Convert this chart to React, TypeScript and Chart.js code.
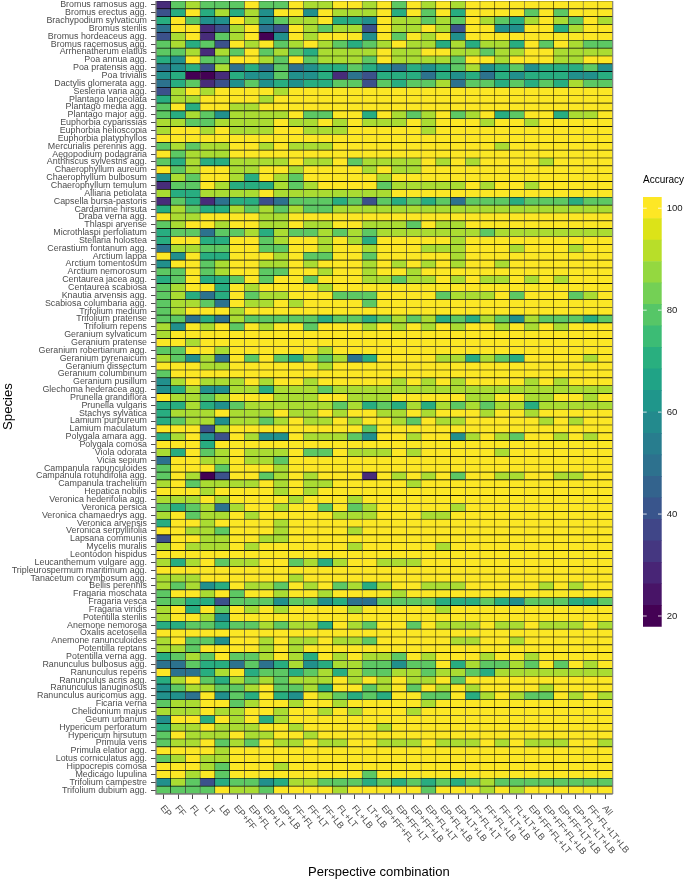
import React, { useEffect, useRef } from "react";
import { Chart } from "chart.js/auto";

const species = [
  "Bromus ramosus agg.","Bromus erectus agg.","Brachypodium sylvaticum","Bromus sterilis","Bromus hordeaceus agg.","Bromus racemosus agg.","Arrhenatherum elatius","Poa annua agg.","Poa pratensis agg.","Poa trivialis","Dactylis glomerata agg.","Sesleria varia agg.","Plantago lanceolata","Plantago media agg.","Plantago major agg.","Euphorbia cyparissias","Euphorbia helioscopia","Euphorbia platyphyllos","Mercurialis perennis agg.","Aegopodium podagraria","Anthriscus sylvestris agg.","Chaerophyllum aureum","Chaerophyllum bulbosum","Chaerophyllum temulum","Alliaria petiolata","Capsella bursa-pastoris","Cardamine hirsuta","Draba verna agg.","Thlaspi arvense","Microthlaspi perfoliatum","Stellaria holostea","Cerastium fontanum agg.","Arctium lappa","Arctium tomentosum","Arctium nemorosum","Centaurea jacea agg.","Centaurea scabiosa","Knautia arvensis agg.","Scabiosa columbaria agg.","Trifolium medium","Trifolium pratense","Trifolium repens","Geranium sylvaticum","Geranium pratense","Geranium robertianum agg.","Geranium pyrenaicum","Geranium dissectum","Geranium columbinum","Geranium pusillum","Glechoma hederacea agg.","Prunella grandiflora","Prunella vulgaris","Stachys sylvatica","Lamium purpureum","Lamium maculatum","Polygala amara agg.","Polygala comosa","Viola odorata","Vicia sepium","Campanula rapunculoides","Campanula rotundifolia agg.","Campanula trachelium","Hepatica nobilis","Veronica hederifolia agg.","Veronica persica","Veronica chamaedrys agg.","Veronica arvensis","Veronica serpyllifolia","Lapsana communis","Mycelis muralis","Leontodon hispidus","Leucanthemum vulgare agg.","Tripleurospermum maritimum agg.","Tanacetum corymbosum agg.","Bellis perennis","Fragaria moschata","Fragaria vesca","Fragaria viridis","Potentilla sterilis","Anemone nemorosa","Oxalis acetosella","Anemone ranunculoides","Potentilla reptans","Potentilla verna agg.","Ranunculus bulbosus agg.","Ranunculus repens","Ranunculus acris agg.","Ranunculus lanuginosus","Ranunculus auricomus agg.","Ficaria verna","Chelidonium majus","Geum urbanum","Hypericum perforatum","Hypericum hirsutum","Primula veris","Primula elatior agg.","Lotus corniculatus agg.","Hippocrepis comosa","Medicago lupulina","Trifolium campestre","Trifolium dubium agg.",
];

const combinations = [
  "EP","FF","FL","LT","LB","EP+FF","EP+FL","EP+LT","EP+LB","FF+FL","FF+LT","FF+LB","FL+LT","FL+LB","LT+LB","EP+FF+FL","EP+FF+LT","EP+FF+LB","EP+FL+LT","EP+FL+LB","EP+LT+LB","FF+FL+LT","FF+FL+LB","FF+LT+LB","FL+LT+LB","EP+FF+FL+LT","EP+FF+FL+LB","EP+FF+LT+LB","EP+FL+LT+LB","FF+FL+LT+LB","All",
];

const accuracy = [
  [30,80,90,80,80,80,100,80,80,100,90,90,100,100,90,100,80,100,90,100,90,100,100,100,100,100,100,100,100,100,100],
  [40,70,100,70,90,70,90,60,100,100,60,100,90,90,90,100,70,100,80,100,70,100,100,100,100,80,100,80,100,100,100],
  [70,100,80,60,60,100,90,60,80,90,90,100,70,70,60,100,90,90,80,90,80,100,90,80,70,90,100,90,80,100,90],
  [50,100,100,30,40,90,100,50,40,100,90,80,90,90,40,100,90,90,100,90,40,100,100,60,60,100,100,70,90,100,100],
  [40,90,100,30,80,90,100,20,60,100,90,100,100,100,60,100,80,100,90,100,60,100,100,100,100,100,100,100,100,100,100],
  [80,90,70,80,40,100,90,100,80,90,100,90,80,70,80,90,100,90,90,70,90,70,90,90,70,100,80,100,90,80,80],
  [80,80,90,30,90,80,100,80,90,80,70,90,90,90,90,100,90,90,100,100,90,90,80,90,90,100,100,90,90,90,90],
  [70,60,100,80,80,100,100,90,80,100,80,90,90,90,80,100,90,90,90,90,80,100,100,90,100,100,100,90,90,100,100],
  [50,60,70,40,90,50,70,50,80,50,60,70,70,80,70,60,50,70,60,70,80,90,60,70,80,60,70,70,70,80,60],
  [60,70,20,20,30,70,60,60,80,60,60,70,30,50,40,70,70,70,50,70,60,70,50,70,60,70,70,70,60,60,70],
  [50,70,80,30,40,60,80,60,70,60,70,70,80,80,40,80,70,80,80,90,50,80,80,70,80,70,80,70,90,80,80],
  [40,90,100,90,100,100,100,100,90,100,100,100,100,100,100,100,100,100,100,100,100,100,100,100,100,100,100,100,100,100,100],
  [70,90,90,100,100,100,100,90,100,100,100,100,100,100,100,100,100,100,100,100,100,100,100,100,100,100,100,100,100,100,100],
  [80,100,70,100,100,90,90,100,100,100,100,100,100,100,100,100,100,100,100,100,100,100,100,100,100,100,100,100,100,100,100],
  [80,70,90,80,60,90,90,90,90,100,80,80,100,100,70,100,90,80,90,100,80,90,100,70,80,100,100,70,90,90,100],
  [90,90,80,80,90,90,90,90,100,90,90,100,90,100,90,90,90,100,90,100,100,100,90,100,100,90,100,100,100,100,100],
  [90,100,100,90,100,90,90,90,100,100,90,90,90,100,100,100,100,100,90,100,100,100,100,100,100,100,100,100,100,100,100],
  [100,100,100,100,100,100,100,100,100,100,100,100,100,100,100,100,100,100,100,100,100,100,100,100,100,100,100,100,100,100,100],
  [80,90,80,90,90,100,100,90,100,90,90,90,100,100,100,100,100,100,100,100,100,100,100,90,100,100,100,100,100,100,100],
  [100,80,90,90,90,100,100,100,100,100,100,100,100,100,100,100,100,100,100,100,100,100,100,100,100,100,100,100,100,100,100],
  [80,70,90,70,70,90,90,90,90,100,90,90,100,80,90,90,90,90,100,90,100,90,100,100,100,100,90,100,100,100,100],
  [100,80,90,100,100,90,90,100,100,90,100,100,100,100,90,100,90,90,100,100,100,100,100,100,100,100,100,100,100,100,100],
  [60,90,80,100,100,90,70,100,90,80,100,100,100,100,100,90,100,100,100,100,100,100,100,100,100,100,100,100,100,100,100],
  [30,80,80,100,90,70,70,70,90,80,90,100,100,100,100,80,90,90,90,90,90,100,90,100,100,90,100,100,100,100,100],
  [90,70,70,90,90,90,90,100,90,90,90,90,90,90,90,90,100,100,100,100,100,100,100,100,100,100,100,100,100,100,100],
  [30,80,70,30,50,70,70,40,50,80,80,80,70,80,40,80,70,80,70,80,50,80,80,80,70,80,80,80,70,80,80],
  [70,90,80,70,70,90,80,90,80,90,80,80,90,90,90,90,90,90,90,90,90,90,90,90,90,90,90,90,90,90,90],
  [100,90,90,100,100,100,100,90,90,100,100,100,100,100,100,100,100,100,100,100,100,100,100,100,100,100,100,100,100,100,100],
  [80,90,100,100,90,100,100,90,90,100,90,90,100,100,90,90,90,80,100,90,90,100,100,100,100,100,100,100,100,100,100],
  [70,80,80,50,80,80,90,70,90,80,80,90,80,90,80,90,90,90,90,90,90,90,80,90,90,90,90,90,90,90,90],
  [70,100,100,70,70,100,100,80,90,100,100,90,100,90,70,100,100,100,100,100,90,100,100,100,100,100,100,100,100,100,100],
  [50,90,90,80,80,100,100,80,80,100,100,90,100,100,90,100,100,100,90,90,90,100,100,100,90,100,100,100,90,100,100],
  [100,60,100,70,70,100,100,100,90,100,80,80,100,100,80,100,100,100,100,100,90,100,100,100,100,100,100,100,100,100,100],
  [60,100,100,80,90,100,100,90,90,100,90,100,100,100,90,100,90,100,90,100,90,100,100,90,100,100,100,100,100,100,100],
  [80,80,100,80,90,100,100,80,80,100,100,90,100,100,90,100,100,90,100,100,100,100,100,100,100,100,100,100,100,100,100],
  [70,80,100,70,70,80,100,80,100,100,80,100,100,100,90,90,80,90,90,100,90,100,90,90,100,90,100,90,100,100,100],
  [80,90,100,100,70,100,90,100,100,100,100,90,100,100,100,100,100,100,100,100,100,100,100,100,100,100,100,100,100,100,100],
  [80,90,70,50,70,100,80,90,90,100,100,100,80,80,80,100,100,100,100,80,90,90,90,100,80,100,100,100,80,90,100],
  [80,90,90,80,50,100,90,90,100,90,100,100,100,100,80,100,100,100,100,100,100,100,100,100,100,100,100,100,100,100,100],
  [80,90,100,100,100,90,100,100,100,100,100,100,100,100,100,100,100,100,100,100,100,100,100,100,100,100,100,100,100,100,100],
  [80,80,50,70,50,90,80,80,80,80,80,70,80,80,70,80,90,80,90,70,80,70,90,80,60,90,80,80,80,70,80],
  [90,60,100,90,100,80,100,90,100,100,80,100,100,100,90,100,90,100,90,100,90,100,100,90,100,90,100,90,100,100,100],
  [90,100,100,100,100,100,100,100,100,100,100,100,100,100,100,100,100,100,100,100,100,100,100,100,100,100,100,100,100,100,100],
  [100,100,90,100,100,100,100,100,100,100,100,100,100,100,100,100,100,100,100,100,100,100,100,100,100,100,100,100,100,100,100],
  [80,80,100,100,90,100,100,100,100,100,100,90,100,100,100,100,100,100,100,100,100,100,100,100,100,100,100,100,100,100,100],
  [90,80,60,90,50,100,80,100,80,70,90,80,90,50,70,100,100,100,100,90,90,70,90,80,70,100,100,100,100,90,100],
  [100,100,100,90,90,100,100,100,100,100,100,90,100,100,100,100,100,100,100,100,100,100,100,100,100,100,100,100,100,100,100],
  [80,100,100,100,100,100,100,100,100,100,100,100,100,100,100,100,100,100,100,100,100,100,100,100,100,100,100,100,100,100,100],
  [60,90,100,90,90,90,100,90,100,100,90,100,100,100,100,100,90,100,90,100,90,100,100,100,100,90,100,90,100,100,100],
  [60,70,90,60,60,90,90,70,90,90,90,80,90,90,90,90,90,90,90,90,90,90,90,90,90,90,90,90,90,90,90],
  [100,90,90,80,90,100,100,100,90,90,90,100,100,90,90,90,100,100,100,100,100,90,90,100,100,90,90,100,100,90,100],
  [70,70,90,70,60,80,90,90,90,90,90,90,80,90,70,80,70,90,70,90,80,90,80,90,90,70,90,90,90,90,90],
  [70,90,90,90,100,90,90,90,100,90,90,100,90,100,100,90,90,100,90,100,100,100,90,100,100,90,100,100,100,100,100],
  [70,80,90,90,60,90,90,80,90,100,90,90,100,90,100,100,90,80,100,90,90,100,100,100,100,100,90,100,90,100,100],
  [100,100,100,40,90,100,100,100,100,100,100,100,100,100,80,100,100,100,100,100,100,100,100,100,100,100,100,100,100,100,100],
  [70,90,100,60,40,100,90,60,60,100,90,90,90,80,60,100,100,90,100,100,60,90,100,90,80,100,100,90,100,90,100],
  [100,100,100,70,100,100,100,100,100,100,100,100,100,100,100,100,100,100,100,100,100,100,100,100,100,100,100,100,100,100,100],
  [90,70,100,80,90,100,90,90,90,100,80,80,100,90,90,90,100,90,100,100,100,100,100,90,100,100,100,100,100,100,100],
  [50,100,100,90,90,100,90,90,80,100,100,100,100,100,100,100,100,100,100,100,100,100,100,100,100,100,100,100,100,100,100],
  [80,100,100,100,80,100,100,100,90,100,100,100,100,100,100,100,100,100,100,100,100,100,100,100,100,100,100,100,100,100,100],
  [80,100,90,20,40,100,100,80,90,100,90,100,100,100,30,100,90,100,90,100,80,100,100,90,90,100,100,90,90,100,100],
  [90,100,80,90,90,90,90,100,90,100,90,90,100,100,100,100,100,90,100,100,100,100,100,100,100,100,100,100,100,100,100],
  [100,100,100,90,100,100,100,100,90,100,90,100,100,100,100,100,100,100,100,100,100,100,100,100,100,100,100,100,100,100,100],
  [90,90,90,100,90,100,100,100,100,90,100,100,100,90,100,100,100,100,100,100,100,100,100,100,100,100,100,100,100,100,100],
  [80,70,80,90,50,90,100,100,90,100,100,80,100,80,90,100,100,100,100,100,90,100,100,100,100,100,100,100,100,100,100],
  [90,100,80,90,90,100,90,100,100,100,100,100,90,90,90,100,100,100,90,90,100,100,100,100,100,100,100,100,100,100,100],
  [70,100,100,90,100,100,100,100,90,100,100,100,100,100,100,100,100,100,100,100,100,100,100,100,100,100,100,100,100,100,100],
  [100,100,90,90,80,100,100,100,90,100,100,100,100,90,100,100,100,100,100,100,100,100,100,100,100,100,100,100,100,100,100],
  [40,100,100,90,90,100,100,90,90,100,100,100,100,100,100,100,100,100,100,100,100,100,100,100,100,100,100,100,100,100,100],
  [90,100,90,90,90,100,90,100,100,100,100,100,100,90,100,100,100,100,100,90,100,100,100,100,100,100,100,100,100,100,100],
  [100,100,100,100,100,100,100,100,100,100,100,100,100,100,100,100,100,100,100,100,100,100,100,100,100,100,100,100,100,100,100],
  [90,70,90,100,80,90,90,100,100,80,90,70,90,100,100,90,90,90,100,100,100,100,100,100,100,100,100,100,100,100,100],
  [100,100,100,100,100,100,100,100,100,100,100,100,100,100,100,100,100,100,100,100,100,100,100,100,100,100,100,100,100,100,100],
  [90,90,90,100,100,100,100,100,100,90,100,100,100,100,100,100,100,100,100,100,100,100,100,100,100,100,100,100,100,100,100],
  [90,80,90,60,70,100,90,90,80,100,90,100,80,90,70,90,100,100,90,90,90,100,100,100,100,100,90,100,90,100,100],
  [80,100,100,90,100,80,100,100,90,100,100,90,100,100,100,100,90,100,100,100,100,100,100,100,100,100,100,100,100,100,100],
  [80,80,70,70,40,80,80,80,60,80,80,60,70,50,50,80,80,80,80,70,70,70,80,70,60,80,80,80,70,70,80],
  [90,100,70,100,80,100,90,100,90,100,100,100,100,90,100,100,100,100,100,90,100,100,100,100,100,100,100,100,100,100,100],
  [90,100,100,90,60,100,100,100,100,100,100,100,100,100,100,100,100,100,100,100,100,100,100,100,100,100,100,100,100,100,100],
  [70,70,80,80,70,80,80,90,80,90,90,70,100,90,80,100,100,80,100,90,90,90,100,90,90,100,90,90,90,100,90],
  [100,100,100,100,100,100,100,100,100,100,100,100,100,100,100,100,100,100,100,100,100,100,100,100,100,100,100,100,100,100,100],
  [90,100,80,80,60,100,100,90,100,90,90,100,90,90,80,100,100,100,100,100,90,90,100,100,90,100,100,100,100,100,100],
  [90,90,80,100,100,100,100,90,100,90,100,100,100,100,100,100,100,100,100,100,100,100,100,100,100,100,100,100,100,100,100],
  [70,80,90,80,100,80,80,90,100,90,70,100,90,100,90,90,80,100,90,100,100,100,90,100,100,90,100,100,100,100,100],
  [50,50,80,70,70,50,80,50,70,90,60,70,90,90,80,80,60,80,80,100,70,90,80,80,90,80,100,80,100,90,100],
  [100,50,50,70,90,100,70,80,80,70,80,90,70,90,80,80,90,90,80,90,90,80,70,90,90,90,90,90,90,90,90],
  [70,90,100,80,70,90,80,90,80,90,90,90,100,90,100,90,100,90,90,100,80,100,100,100,100,100,100,100,100,100,100],
  [60,80,90,90,80,80,90,100,80,80,90,70,100,100,80,90,100,80,100,90,100,90,100,100,100,100,90,100,100,100,100],
  [60,60,50,100,60,80,70,100,70,60,100,90,80,70,80,70,100,100,80,80,100,70,90,100,90,80,80,100,90,100,90],
  [80,90,90,100,100,80,90,100,100,90,100,100,90,100,100,100,100,100,90,100,100,100,100,100,100,100,100,100,100,100,100],
  [90,90,90,100,90,90,100,100,90,100,100,90,100,90,100,100,100,90,100,100,100,100,100,100,100,100,100,100,100,100,100],
  [60,100,100,70,100,90,100,70,90,100,100,100,100,100,100,100,100,100,100,100,100,100,100,100,100,100,100,100,100,100,100],
  [70,90,90,100,90,90,90,100,100,90,100,100,100,100,100,90,100,100,100,100,100,100,100,100,100,100,100,100,100,100,100],
  [80,100,90,90,90,100,90,90,100,100,90,100,100,100,100,100,100,100,100,100,100,100,100,100,100,100,100,100,100,100,100],
  [80,90,90,100,80,90,80,100,90,90,100,90,90,100,100,90,90,90,100,90,90,90,100,90,100,90,90,90,100,100,90],
  [100,100,100,100,90,100,100,100,100,100,100,100,100,100,100,100,100,100,100,100,100,100,100,100,100,100,100,100,100,100,100],
  [80,90,100,90,90,100,100,100,100,100,100,100,100,100,100,100,100,100,100,100,100,100,100,100,100,100,100,100,100,100,100],
  [100,100,100,90,80,100,100,100,90,100,100,100,100,100,100,100,100,100,100,100,100,100,100,100,100,100,100,100,100,100,100],
  [100,100,90,100,80,100,100,100,100,100,100,100,100,100,80,100,100,100,100,100,100,100,100,100,100,100,100,100,100,100,100],
  [60,90,80,40,70,80,80,60,70,90,90,80,80,80,70,80,70,80,70,80,70,80,90,80,80,80,80,80,80,80,80],
  [80,80,80,80,100,90,90,80,100,100,100,100,90,100,100,100,100,100,80,100,100,100,90,100,90,100,100,100,100,100,100],
];

const legendColours = [
  "#440154","#481467","#482576","#453781","#404688","#39558C","#33638D","#2D718E","#287D8E","#238A8D",
  "#1F968B","#20A386","#29AF7F","#3CBC75","#56C667","#74D055","#94D840","#B8DE29","#DCE318","#FDE725",
];
const legendTicks = [20, 40, 60, 80, 100];
const legendMin = 17.9;
const legendMax = 102.2;
const binSize = (legendMax - legendMin) / legendColours.length;

function hexToRgb(h: string) {
  return [1, 3, 5].map((i) => parseInt(h.slice(i, i + 2), 16));
}

function colourFor(v: number) {
  const pos = (v - legendMin) / binSize - 0.5;
  const i = Math.max(0, Math.min(legendColours.length - 1, Math.floor(pos)));
  const j = Math.min(legendColours.length - 1, i + 1);
  const f = Math.max(0, Math.min(1, pos - i));
  const a = hexToRgb(legendColours[i]);
  const b = hexToRgb(legendColours[j]);
  const c = a.map((x, k) => Math.round(x + (b[k] - x) * f));
  return `rgb(${c[0]},${c[1]},${c[2]})`;
}

const FONT = "'Liberation Sans', Arial, sans-serif";

// moves an axis title along its axis, since the library only centres it
function shiftTitle(scale: any, keyA: string, keyB: string, delta: number) {
  if (scale._titleShifted) return;
  scale._titleShifted = true;
  const original = scale.drawTitle;
  scale.drawTitle = function () {
    const a = this[keyA];
    const b = this[keyB];
    this[keyA] = a + delta;
    this[keyB] = b + delta;
    original.call(this);
    this[keyA] = a;
    this[keyB] = b;
  };
}

export default function App() {
  const mainRef = useRef<HTMLCanvasElement>(null);
  const legendRef = useRef<HTMLCanvasElement>(null);

  useEffect(() => {
    const frame = {
      id: "frame",
      afterDatasetsDraw(chart: any) {
        const { left, right, top, bottom } = chart.chartArea;
        const ctx = chart.ctx;
        ctx.save();
        ctx.strokeStyle = "#c8c8c8";
        ctx.lineWidth = 1;
        ctx.beginPath();
        ctx.moveTo(right + 0.5, top);
        ctx.lineTo(right + 0.5, bottom);
        ctx.stroke();
        ctx.strokeStyle = "#7f7f7f";
        ctx.lineWidth = 1.4;
        ctx.beginPath();
        ctx.moveTo(left, top);
        ctx.lineTo(left, bottom);
        ctx.lineTo(right, bottom);
        ctx.stroke();
        ctx.restore();
      },
    };

    const main = new Chart(mainRef.current!, {
      type: "bar",
      data: {
        labels: species,
        datasets: combinations.map((name, j) => ({
          label: name,
          data: species.map((s, r) => ({ x: [j, j + 1], y: s, v: accuracy[r][j] })),
          backgroundColor: (c: any) => colourFor(c.raw ? c.raw.v : 100),
          borderColor: "#000000",
          borderWidth: 0.65,
          grouped: false,
          barPercentage: 1,
          categoryPercentage: 1,
        })),
      } as any,
      plugins: [frame],
      options: {
        indexAxis: "y",
        responsive: false,
        animation: false,
        layout: { padding: { top: 1, right: 72.3, left: 0, bottom: 0 } },
        plugins: { legend: { display: false }, title: { display: false }, tooltip: { enabled: false } },
        scales: {
          x: {
            type: "linear",
            min: 0,
            max: combinations.length,
            position: "bottom",
            grid: { drawOnChartArea: false, drawTicks: true, tickLength: 5, tickColor: "#4d4d4d", tickWidth: 1 },
            border: { display: false },
            afterBuildTicks: (scale: any) => {
              scale.ticks = combinations.map((_, i) => ({ value: i + 0.5 }));
              scale._getXAxisLabelAlignment = () => "left";
              shiftTitle(scale, "left", "right", -5.5);
            },
            afterFit: (scale: any) => {
              scale.height = 85;
              scale.paddingLeft = 0;
              scale.paddingRight = 0;
            },
            ticks: {
              autoSkip: false,
              minRotation: -50,
              maxRotation: -50,
              padding: 4,
              labelOffset: -1.5,
              color: "#4d4d4d",
              font: { family: FONT, size: 9.2 },
              callback: (_: any, i: number) => combinations[i],
            },
            title: {
              display: true,
              text: "Perspective combination",
              color: "#000000",
              font: { family: FONT, size: 13, lineHeight: 1 },
              padding: { top: 0, bottom: 0 },
            },
          },
          y: {
            type: "category",
            position: "left",
            grid: { drawOnChartArea: false, drawTicks: true, tickLength: 5, tickColor: "#4d4d4d", tickWidth: 1, offset: false },
            border: { display: false },
            afterFit: (scale: any) => {
              scale.width = 156;
              scale.paddingTop = 0;
              scale.paddingBottom = 0;
              shiftTitle(scale, "top", "bottom", 9);
            },
            ticks: {
              autoSkip: false,
              padding: 4,
              color: "#4d4d4d",
              font: { family: FONT, size: 8.9 },
            },
            title: {
              display: true,
              text: "Species",
              color: "#000000",
              font: { family: FONT, size: 13.2, lineHeight: 1 },
              padding: { top: 1.5, bottom: 0 },
            },
          },
        },
      } as any,
    });

    const legendMarks = {
      id: "legendMarks",
      afterDatasetsDraw(chart: any) {
        const { left, right } = chart.chartArea;
        const yScale = chart.scales.y;
        const ctx = chart.ctx;
        ctx.save();
        ctx.strokeStyle = "#ffffff";
        ctx.lineWidth = 0.8;
        legendTicks.forEach((t) => {
          const y = yScale.getPixelForValue(t);
          ctx.beginPath();
          ctx.moveTo(left, y);
          ctx.lineTo(left + 3.7, y);
          ctx.moveTo(right - 3.7, y);
          ctx.lineTo(right, y);
          ctx.stroke();
        });
        ctx.restore();
      },
    };

    const legend = new Chart(legendRef.current!, {
      type: "bar",
      data: {
        labels: ["Accuracy"],
        datasets: legendColours.map((c, i) => ({
          label: String(i),
          data: [[legendMin + i * binSize, legendMin + (i + 1) * binSize]],
          backgroundColor: c,
          borderWidth: 0,
          grouped: false,
          barPercentage: 1,
          categoryPercentage: 1,
        })),
      } as any,
      plugins: [legendMarks],
      options: {
        responsive: false,
        animation: false,
        layout: { padding: { top: 0, right: 0, left: 0, bottom: 13.3 } },
        plugins: {
          legend: { display: false },
          tooltip: { enabled: false },
          title: {
            display: true,
            text: "Accuracy",
            align: "start",
            color: "#000000",
            font: { family: FONT, size: 10, lineHeight: 1.2, weight: "normal" },
            padding: { top: 4.3, bottom: 10.7 },
          },
        },
        scales: {
          x: { display: false },
          y: {
            type: "linear",
            position: "right",
            min: legendMin,
            max: legendMax,
            grid: { display: false, drawTicks: false },
            border: { display: false },
            afterBuildTicks: (scale: any) => {
              scale.ticks = legendTicks.map((value) => ({ value }));
            },
            afterFit: (scale: any) => {
              scale.width = 23.3;
              scale.paddingTop = 0;
              scale.paddingBottom = 0;
            },
            ticks: {
              padding: 5,
              color: "#1a1a1a",
              font: { family: FONT, size: 9.6 },
            },
          },
        },
      } as any,
    });

    return () => {
      main.destroy();
      legend.destroy();
    };
  }, []);

  return (
    <div>
      <canvas ref={mainRef} width={685} height={879} style={{ position: "absolute", left: 0, top: 0 }} />
      <canvas ref={legendRef} width={42} height={470} style={{ position: "absolute", left: 643, top: 170 }} />
    </div>
  );
}
